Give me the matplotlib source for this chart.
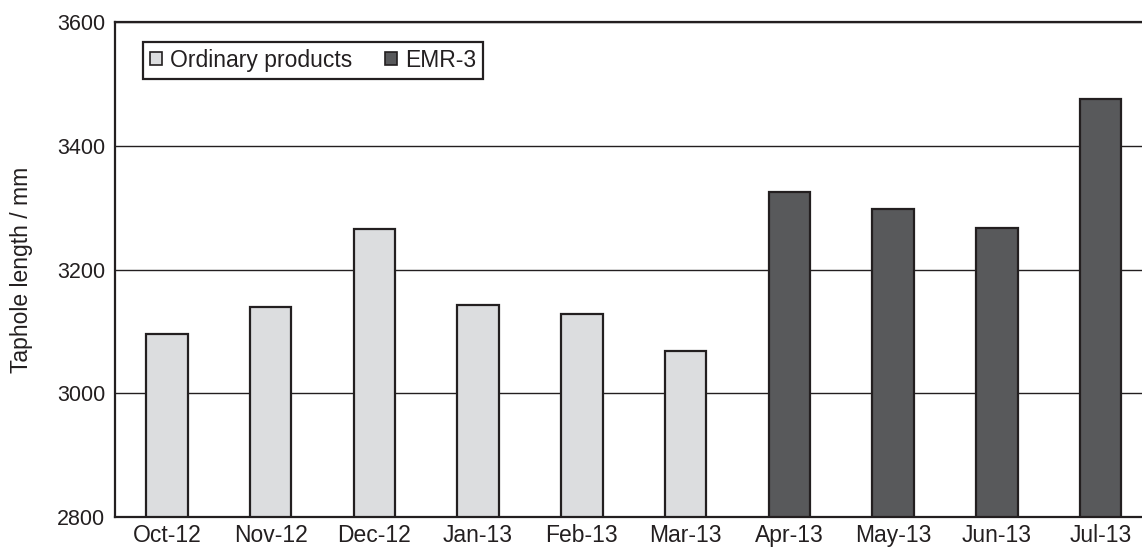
import matplotlib
matplotlib.use("Agg")
import matplotlib.pyplot as plt
from matplotlib.patches import Patch

months = ['Oct-12', 'Nov-12', 'Dec-12', 'Jan-13', 'Feb-13',
          'Mar-13', 'Apr-13', 'May-13', 'Jun-13', 'Jul-13']
taphole = [3095, 3140, 3265, 3143, 3128, 3068, 3325, 3297, 3267, 3475]
product = ['Ordinary products'] * 6 + ['EMR-3'] * 4
yticks = [2800, 3000, 3200, 3400, 3600]

colors = {'Ordinary products': '#dcdddf', 'EMR-3': '#58595b'}
edge = '#231f20'

plt.rcParams['font.family'] = ['Liberation Sans', 'DejaVu Sans']
fs = 16.5

fig = plt.figure(figsize=(11.42, 5.49), dpi=100)
ax = fig.add_axes([115 / 1142, 32 / 549, 1027 / 1142, 495 / 549])

x = list(range(len(months)))
ax.bar(x, [v - 2800 for v in taphole], bottom=2800, width=0.4,
       color=[colors[p] for p in product], edgecolor=edge, linewidth=1.6,
       zorder=3)

ax.set_xlim(-0.5, 9.4)
ax.set_ylim(2800, 3600)
ax.set_yticks(yticks)
ax.set_xticks(x)
ax.set_xticklabels(months)
ax.tick_params(length=0, colors='#231f20')
ax.tick_params(axis='y', pad=7, labelsize=15.5)
ax.tick_params(axis='x', pad=5, labelsize=fs)

ax.yaxis.grid(True, color='#231f20', linewidth=1.0, zorder=0)
ax.set_axisbelow(True)

for s in ['top', 'left', 'bottom']:
    ax.spines[s].set_linewidth(1.6)
    ax.spines[s].set_color(edge)
ax.spines['right'].set_visible(False)

ax.set_ylabel('Taphole length / mm', fontsize=fs, color='#231f20')
ax.yaxis.set_label_coords(-82 / 1027, 0.5)

handles = [Patch(facecolor=colors[k], edgecolor=edge, linewidth=1.2, label=k)
           for k in ['Ordinary products', 'EMR-3']]
leg = ax.legend(handles=handles, loc='upper left', ncol=2,
                bbox_to_anchor=(28 / 1027, 1 - 20 / 495), borderaxespad=0,
                fontsize=fs, handlelength=0.52, handleheight=0.52,
                handletextpad=0.35, columnspacing=1.45, borderpad=0.3,
                fancybox=False, framealpha=1)
leg.get_frame().set_edgecolor(edge)
leg.get_frame().set_linewidth(1.6)
for t in leg.get_texts():
    t.set_color('#231f20')

fig.savefig('out.png', dpi=100)
